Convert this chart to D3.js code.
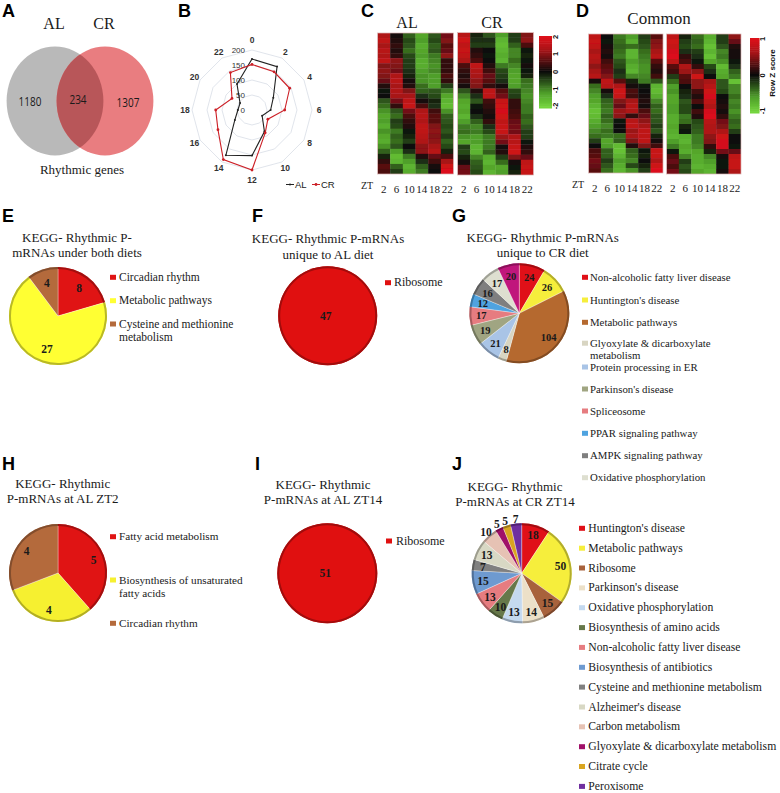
<!DOCTYPE html>
<html>
<head>
<meta charset="utf-8">
<script src="https://d3js.org/d3.v7.min.js"></script>
<style>
  html, body { margin: 0; padding: 0; background: #fff; }
  text { font-family: "Liberation Serif", serif; fill: #1a1a1a; }
  .letter { font-family: "Liberation Sans", sans-serif; font-weight: bold; font-size: 18px; fill: #000; }
  .sans { font-family: "Liberation Sans", sans-serif; }
  .axis path { display: none; }
</style>
</head>
<body>
<div id="chart"></div>
<script>
// panel A
var vennSets = ['AL', 'CR']
var vennCounts = ['1180', '234', '1307']

// panel B
var hours = [0, 2, 4, 6, 8, 10, 12, 14, 16, 18, 20, 22]
var radarTicks = [0, 50, 100, 150, 200]
var radarAL = [170, 167, 82, 62, 39, 83, 152, 174, 66, 47, 46, 100]
var radarCR = [152, 147, 145, 109, 61, 88, 200, 191, 131, 121, 77, 144]

// panels C and D, rows top to bottom, one column per ZT
var zt = ['2', '6', '10', '14', '18', '22']

var heatAL = [
  [1.3, 0.1, -0.7, -1.3, -0.6, 0.8],
  [1.5, 0.2, -0.5, -1.2, -0.5, 0.9],
  [1.2, 0.3, -0.6, -1.4, -0.7, 0.6],
  [1.4, 0.2, -0.8, -1.3, -0.6, 0.7],
  [1.3, 0.3, -0.5, -1.2, -0.9, 1.0],
  [1.5, 1.0, -0.4, -1.4, -1.0, 0.3],
  [0.9, 0.9, -0.4, -1.4, -1.1, 0.3],
  [1.0, 0.8, -0.3, -1.2, -1.0, 0.3],
  [0.9, 1.3, -0.2, -1.1, -1.2, 0.5],
  [0.7, 1.4, 0.1, -1.1, -1.2, 0.3],
  [0.2, 1.2, 0.2, -0.8, -1.2, -0.4],
  [-0.1, 1.3, 0.9, -0.7, -0.6, -0.9],
  [0.0, 1.2, 1.2, -0.3, -0.5, -1.3],
  [-0.6, 0.8, 1.5, 0.1, -0.2, -1.5],
  [-0.8, 0.3, 1.6, 0.5, -0.3, -1.6],
  [-1.1, -0.6, 0.8, 1.3, 0.4, -1.1],
  [-1.3, -0.8, 0.5, 1.4, 0.6, -0.7],
  [-1.2, -0.4, 0.3, 1.3, 0.6, -0.6],
  [-1.4, -0.5, 0.2, 1.5, 0.9, -0.5],
  [-1.1, -0.9, -0.1, 1.5, 1.0, -0.6],
  [-1.3, -0.7, -0.2, 1.4, 0.9, -0.4],
  [-1.4, -0.8, -0.4, 1.3, 1.0, -0.7],
  [-1.1, -0.6, 0.0, 1.0, 1.2, -0.5],
  [-0.7, -1.2, -0.3, 1.0, 1.4, -0.2],
  [-0.2, -1.6, -0.9, 0.2, 0.7, 0.5],
  [0.3, -1.5, -1.2, -0.3, 0.4, 1.2],
  [0.6, -0.7, -1.5, -0.7, 0.1, 1.7],
  [0.5, -0.4, -1.4, -0.9, 0.0, 1.9]
]

var heatCR = [
  [1.4, -0.2, -0.6, -1.2, -0.4, 0.9],
  [1.7, -0.3, -0.3, -1.5, -0.4, 1.0],
  [1.5, -0.4, -0.4, -1.6, -0.7, 0.5],
  [1.6, 0.2, 0.0, -1.5, -1.0, -0.1],
  [1.5, 0.3, -0.1, -1.4, -1.0, -0.2],
  [1.3, 0.5, 0.0, -1.5, -0.8, -0.1],
  [0.5, 1.5, 0.2, -0.9, -1.0, 0.1],
  [0.3, 1.3, 0.4, -0.5, -1.2, -0.1],
  [0.2, 1.2, 0.7, -0.4, -1.3, -0.2],
  [0.3, 1.0, 0.6, -0.3, -1.3, -0.8],
  [0.1, 0.9, 0.3, 0.1, -1.2, -0.9],
  [-0.6, 0.2, 1.5, 0.6, -0.5, -1.0],
  [-1.0, -0.3, 1.5, 0.8, -0.4, -1.1],
  [-1.3, -0.6, 0.4, 1.6, 0.3, -1.0],
  [-1.4, -0.1, 0.3, 1.7, 0.3, -0.9],
  [-1.3, 0.0, 0.2, 1.8, 0.4, -0.9],
  [-1.5, -0.3, 0.1, 1.7, 0.5, -0.7],
  [-1.2, -0.7, 0.3, 1.5, 0.7, -0.8],
  [-0.9, -1.0, -0.3, 1.6, 0.8, -0.6],
  [-0.8, -0.9, -0.5, 1.6, 0.8, -0.4],
  [-1.1, -1.2, -0.9, 1.1, 1.3, -0.4],
  [-1.3, -1.2, -0.9, 0.8, 1.4, -0.1],
  [-0.4, -1.5, -0.9, 0.1, 1.6, 0.2],
  [-0.5, -1.5, -0.7, 0.2, 1.7, 0.3],
  [-0.2, -1.0, -1.4, -0.4, 0.9, 0.7],
  [0.1, -0.7, -1.5, -0.8, 0.1, 1.5],
  [0.7, -0.6, -1.3, -1.3, -0.1, 1.6],
  [0.8, -0.5, -1.5, -1.2, -0.2, 1.6]
]

var commonAL = [
  [0.75, 0.0, -0.45, -0.6, -0.2, 0.3],
  [0.8, -0.05, -0.4, -0.7, -0.25, 0.45],
  [0.75, 0.05, -0.35, -0.4, -0.3, 0.5],
  [0.6, 0.1, -0.4, -0.75, -0.4, 0.6],
  [0.7, 0.05, -0.45, -0.75, -0.45, 0.7],
  [0.65, 0.2, -0.3, -0.6, -0.5, 0.3],
  [0.5, 0.3, -0.25, -0.7, -0.55, 0.15],
  [0.6, 0.35, -0.15, -0.75, -0.55, 0.1],
  [0.7, 0.45, -0.2, -0.5, -0.5, 0.2],
  [0.05, 0.75, 0.3, -0.1, -0.45, -0.3],
  [-0.4, 0.7, 0.65, 0.05, -0.05, -0.75],
  [-0.5, 0.05, 0.85, 0.25, 0.0, -0.8],
  [-0.6, -0.15, 0.8, 0.2, 0.05, -0.7],
  [-0.65, -0.35, 0.45, 0.6, 0.1, -0.5],
  [-0.75, -0.4, 0.35, 0.7, 0.05, -0.35],
  [-0.85, -0.45, 0.55, 0.65, 0.25, -0.4],
  [-0.8, -0.35, 0.5, 0.15, 0.35, -0.3],
  [-0.7, -0.4, -0.05, 0.7, 0.5, -0.3],
  [-0.6, -0.5, 0.0, 0.75, 0.6, -0.2],
  [-0.5, -0.4, 0.0, 0.55, 0.75, -0.3],
  [-0.4, -0.45, -0.4, 0.6, 0.75, -0.1],
  [-0.2, -0.65, -0.35, 0.45, 0.75, 0.05],
  [0.0, -0.6, -0.8, 0.1, 0.45, 0.2],
  [0.25, -0.35, -0.85, -0.35, -0.05, 0.8],
  [0.3, -0.35, -0.75, -0.4, -0.1, 0.8],
  [0.4, -0.2, -0.6, -0.5, 0.0, 0.65],
  [0.35, -0.3, -0.7, -0.25, -0.1, 0.85],
  [0.3, -0.4, -0.75, -0.55, -0.2, 0.95]
]

var commonCR = [
  [0.75, -0.1, -0.4, -0.7, -0.2, 0.5],
  [0.85, -0.2, -0.35, -0.75, -0.2, 0.35],
  [0.8, -0.25, -0.4, -0.85, -0.3, 0.1],
  [0.9, -0.15, -0.2, -0.75, -0.5, 0.05],
  [0.95, 0.15, -0.15, -0.85, -0.45, 0.05],
  [0.75, 0.25, -0.05, -0.65, -0.55, -0.05],
  [0.3, 0.65, 0.15, -0.25, -0.8, -0.15],
  [0.2, 0.55, 0.5, -0.15, -0.7, -0.35],
  [-0.2, 0.3, 0.85, 0.0, -0.65, -0.45],
  [-0.4, 0.25, 0.5, 0.6, -0.3, -0.85],
  [-0.6, 0.0, 0.5, 0.7, -0.3, -0.5],
  [-0.55, -0.1, 0.2, 0.85, -0.25, -0.5],
  [-0.65, -0.15, 0.1, 0.9, 0.0, -0.4],
  [-0.65, -0.3, 0.25, 0.75, 0.05, -0.5],
  [-0.6, -0.25, 0.0, 0.65, 0.1, -0.45],
  [-0.6, -0.25, 0.2, 0.9, 0.05, -0.55],
  [-0.7, -0.45, 0.1, 0.95, 0.15, -0.45],
  [-0.7, -0.4, -0.25, 0.7, 0.4, -0.35],
  [-0.65, -0.1, -0.3, 0.65, 0.45, -0.4],
  [-0.7, -0.05, -0.35, 0.65, 0.65, -0.2],
  [-0.75, -0.7, -0.45, 0.5, 0.85, 0.0],
  [-0.6, -0.75, -0.45, 0.45, 0.9, 0.0],
  [-0.45, -0.65, -0.5, 0.15, 0.9, -0.05],
  [-0.05, -0.7, -0.65, -0.1, 0.4, 0.35],
  [0.25, -0.5, -0.7, -0.5, 0.05, 0.75],
  [0.35, -0.2, -0.7, -0.6, -0.05, 0.8],
  [0.25, -0.3, -0.75, -0.7, -0.05, 0.8],
  [0.4, -0.25, -0.65, -0.75, 0.05, 0.65]
]

var scale2Ticks = [2, 1, 0, -1, -2]
var scale1Ticks = [1, 0, -1]

// pies, categories and values in legend order
var catE = ['Circadian rhythm', 'Metabolic pathways', 'Cysteine and methionine|metabolism']
var valE = [8, 27, 4]
var colE = ['#e01414', '#ffff33', '#b46a3c']

var catF = ['Ribosome']
var valF = [47]
var colF = ['#e01010']

var catG = ['Non-alcoholic fatty liver disease', "Huntington's disease", 'Metabolic pathways',
  'Glyoxylate & dicarboxylate|metabolism', 'Protein processing in ER', "Parkinson's disease",
  'Spliceosome', 'PPAR signaling pathway', 'AMPK signaling pathway', 'Oxidative phosphorylation']
var valG = [24, 26, 104, 8, 21, 19, 17, 12, 16, 17, 20]
var colG = ['#e01018', '#f6ee3c', '#b5692f', '#d8d5c2', '#a9c4e6', '#a0a582', '#e67c80',
  '#4fa3e0', '#7f7f7f', '#dedfd0', '#c0167c']
var colGLegend = colG.slice(0, 10)

var catH = ['Fatty acid metabolism', 'Biosynthesis of unsaturated|fatty acids', 'Circadian rhythm']
var valH = [5, 4, 4]
var colH = ['#e01414', '#f6f030', '#b46a3c']

var catI = ['Ribosome']
var valI = [51]
var colI = ['#e01010']

var catJ = ["Huntington's disease", 'Metabolic pathways', 'Ribosome', "Parkinson's disease",
  'Oxidative phosphorylation', 'Biosynthesis of amino acids', 'Non-alcoholic fatty liver disease',
  'Biosynthesis of antibiotics', 'Cysteine and methionine metabolism', "Alzheimer's disease",
  'Carbon metabolism', 'Glyoxylate & dicarboxylate metabolism', 'Citrate cycle', 'Peroxisome']
var valJ = [18, 50, 15, 14, 13, 10, 13, 15, 7, 13, 10, 5, 5, 7]
var colJ = ['#e01018', '#f6ee3c', '#a8623c', '#ece0c8', '#c4d9ef', '#66784a', '#e67c80',
  '#6e9ad0', '#808080', '#d8d8c4', '#e6c2b4', '#a01068', '#d9a520', '#6f2fa0']

var svg = d3.select('#chart').append('svg')
  .attr('width', 780)
  .attr('height', 793)
  .style('display', 'block')

// soft edge on the heatmap cells, the stripes in the figure run together a bit
var soft = svg.append('defs').append('filter').attr('id', 'soft')
  .attr('x', '-2%').attr('y', '-2%').attr('width', '104%').attr('height', '104%')
soft.append('feGaussianBlur').attr('stdDeviation', '0.5 0.7')

function put(x, y, str, size, anchor, cls) {
  return svg.append('text')
    .attr('x', x)
    .attr('y', y)
    .attr('font-size', size)
    .attr('text-anchor', anchor || 'start')
    .attr('class', cls || null)
    .text(str)
}

// panel letters
var letters = [['A', 2, 17], ['B', 178, 17], ['C', 361, 17], ['D', 576, 17], ['E', 2, 222],
  ['F', 252, 222], ['G', 452, 222], ['H', 2, 470], ['I', 255, 470], ['J', 452, 470]]
letters.forEach(function(l) {
  svg.append('text').attr('class', 'letter').attr('x', l[1]).attr('y', l[2]).text(l[0])
})

// ---- A: venn
function drawVenn() {
  var cx = d3.scalePoint().domain(vennSets).range([55, 105])
  var cy = 101, rx = 48.4, ry = 54.5
  svg.append('clipPath').attr('id', 'vennclip').append('ellipse')
    .attr('cx', cx('AL')).attr('cy', cy).attr('rx', rx).attr('ry', ry)
  svg.append('ellipse').attr('cx', cx('AL')).attr('cy', cy).attr('rx', rx).attr('ry', ry).attr('fill', '#b9b9b9')
  svg.append('ellipse').attr('cx', cx('CR')).attr('cy', cy).attr('rx', rx).attr('ry', ry).attr('fill', '#e97d80')
  svg.append('ellipse').attr('cx', cx('CR')).attr('cy', cy).attr('rx', rx).attr('ry', ry)
    .attr('fill', '#b85659').attr('clip-path', 'url(#vennclip)')

  vennSets.forEach(function(s) { put(cx(s) - 1, 29, s, 16, 'middle') })

  var cnt = d3.scalePoint().domain(vennCounts).range([30, 128])
  var cntY = [105.5, 103.5, 106.5]
  vennCounts.forEach(function(c, i) {
    put(cnt(c) - (i === 1 ? 1 : 0), cntY[i], c, 13, 'middle')
      .style('font-family', '"Open Sans"')
      .attr('textLength', c.length * 5.7)
      .attr('lengthAdjust', 'spacingAndGlyphs')
  })
  put(82, 174, 'Rhythmic genes', 13, 'middle')
}
drawVenn()

// ---- B: radar
function drawRadar() {
  var g = svg.append('g').attr('transform', 'translate(252,110)')
  var r = d3.scaleLinear().domain([0, 200]).range([0, 60])
  var ang = d3.scaleLinear().domain([0, 24]).range([0, 2 * Math.PI])
  var line = d3.lineRadial().curve(d3.curveLinearClosed)

  radarTicks.slice(1).forEach(function(t) {
    g.append('path')
      .attr('d', line(hours.map(function(h) { return [ang(h), r(t)] })))
      .attr('fill', 'none')
      .attr('stroke', '#d8dde6')
      .attr('stroke-width', 0.8)
  })

  radarTicks.forEach(function(t) {
    g.append('text').attr('class', 'sans').attr('x', -7).attr('y', -r(t) + 2.5)
      .attr('font-size', 8).attr('text-anchor', 'end').style('fill', '#333').text(t)
  })

  hours.forEach(function(h) {
    var rad = (h % 12 === 0) ? 70 : (h % 6 === 0 ? 67 : 66.5)
    var a = ang(h)
    g.append('text').attr('class', 'sans')
      .attr('x', rad * Math.sin(a))
      .attr('y', -rad * Math.cos(a) + 3)
      .attr('font-size', 8.5).attr('font-weight', 'bold').attr('text-anchor', 'middle')
      .style('fill', '#333').text(h)
  })

  function series(vals, col, size) {
    var pts = vals.map(function(v, i) { return [ang(hours[i]), r(v)] })
    g.append('path').attr('d', line(pts)).attr('fill', 'none').attr('stroke', col).attr('stroke-width', 1.1)
    g.selectAll(null).data(pts).enter().append('circle')
      .attr('cx', function(d) { return d[1] * Math.sin(d[0]) })
      .attr('cy', function(d) { return -d[1] * Math.cos(d[0]) })
      .attr('r', size).attr('fill', col)
  }
  series(radarAL, '#222', 1.0)
  series(radarCR, '#cc1f26', 1.4)

  // legend
  svg.append('line').attr('x1', 286).attr('x2', 294).attr('y1', 184.5).attr('y2', 184.5).attr('stroke', '#222')
  svg.append('circle').attr('cx', 290).attr('cy', 184.5).attr('r', 1).attr('fill', '#222')
  put(295, 188, 'AL', 9.5, 'start', 'sans')
  svg.append('line').attr('x1', 312).attr('x2', 320).attr('y1', 184.5).attr('y2', 184.5).attr('stroke', '#cc1f26')
  svg.append('circle').attr('cx', 316).attr('cy', 184.5).attr('r', 1.4).attr('fill', '#cc1f26')
  put(321, 188, 'CR', 9.5, 'start', 'sans')
}
drawRadar()

// ---- C, D: heatmaps
function drawHeat(rows, x0, y0, w, h, domainMax, labelY) {
  var color = d3.scaleLinear()
    .domain([-domainMax, -domainMax * 0.6, 0, domainMax * 0.6, domainMax])
    .range(['#74d63c', '#4f9f2a', '#0a0a0a', '#a81418', '#e3101a'])
    .clamp(true)
  var x = d3.scaleBand().domain(zt).range([0, w])
  var y = d3.scaleBand().domain(d3.range(rows.length)).range([0, h])
  var g = svg.append('g').attr('transform', 'translate(' + x0 + ',' + y0 + ')')

  svg.append('clipPath').attr('id', 'clip' + x0).append('rect').attr('width', w).attr('height', h)
  var cells = g.append('g').attr('clip-path', 'url(#clip' + x0 + ')').append('g').attr('filter', 'url(#soft)')
  rows.forEach(function(row, i) {
    cells.selectAll(null).data(row).enter().append('rect')
      .attr('x', function(d, j) { return x(zt[j]) })
      .attr('y', y(i))
      .attr('width', x.bandwidth() + 0.3)
      .attr('height', y.bandwidth() + 0.3)
      .attr('fill', function(d) { return color(d) })
  })
  g.append('rect').attr('width', w).attr('height', h).attr('fill', 'none').attr('stroke', '#d9b3b3').attr('stroke-width', 0.7)

  var ax = g.append('g').attr('class', 'axis')
    .attr('transform', 'translate(0,' + (labelY - y0) + ')')
    .call(d3.axisBottom(x).tickSize(0).tickPadding(0))
  ax.selectAll('text').attr('font-size', 11).attr('y', 4).style('font-family', '"Liberation Serif"').style('fill', '#1a1a1a')
  return color
}

function drawRamp(color, ticks, x0, y0, w, h, tickX, domainMax) {
  var y = d3.scaleLinear().domain([domainMax, -domainMax]).range([y0, y0 + h])
  var step = domainMax / 20
  var ramp = d3.range(-domainMax, domainMax, step)
  svg.selectAll(null).data(ramp).enter().append('rect')
    .attr('x', x0)
    .attr('y', function(d) { return y(d + step) })
    .attr('width', w)
    .attr('height', y(0) - y(step) + 0.5)
    .attr('fill', function(d) { return color(d) })
  ticks.forEach(function(t) {
    svg.append('text').attr('class', 'sans')
      .attr('transform', 'translate(' + tickX + ',' + Math.min(Math.max(y(t), y0 + 1), y0 + h - 2) + ') rotate(-90)')
      .attr('font-size', 7.5).attr('font-weight', 'bold').attr('text-anchor', 'middle').style('fill', '#111')
      .text(t)
  })
}

var heatC = drawHeat(heatAL, 377.5, 33, 76, 141, 2, 181)
drawHeat(heatCR, 457.5, 32.5, 76, 142.5, 2, 181)
drawRamp(heatC, scale2Ticks, 539, 36, 13, 72, 558, 2)
put(407, 28, 'AL', 16, 'middle')
put(492, 28, 'CR', 16, 'middle')
put(361, 189, 'ZT', 10, 'start')

var heatD = drawHeat(commonAL, 588.5, 34, 74.5, 139, 1, 180)
drawHeat(commonCR, 666.5, 34, 74.5, 140, 1, 180)
drawRamp(heatD, scale1Ticks, 750, 38, 9.5, 75, 765, 1)
put(659, 24, 'Common', 17, 'middle')
put(572, 188, 'ZT', 10, 'start')
svg.append('text').attr('class', 'sans')
  .attr('transform', 'translate(775,73) rotate(-90)')
  .attr('font-size', 8).attr('font-weight', 'bold').attr('text-anchor', 'middle').style('fill', '#111')
  .text('Row Z score')

// ---- E-J: pies
function drawPie(vals, cols, cx, cy, radius, labelR, numSize, outerFrom) {
  var g = svg.append('g').attr('transform', 'translate(' + cx + ',' + cy + ')')
  var pie = d3.pie().sort(null)
  var arcs = pie(vals)
  var body = d3.arc().innerRadius(0).outerRadius(radius)
  var rim = d3.arc().innerRadius(radius - 2).outerRadius(radius)

  g.selectAll('.slice').data(arcs).enter().append('path')
    .attr('class', 'slice')
    .attr('d', body)
    .attr('fill', function(d, i) { return cols[i] })
    .attr('stroke', vals.length > 1 ? 'rgba(255,255,255,0.45)' : 'none')
    .attr('stroke-width', 0.7)
  g.selectAll('.rim').data(arcs).enter().append('path')
    .attr('class', 'rim')
    .attr('d', rim)
    .attr('fill', function(d, i) { return d3.color(cols[i]).darker(0.9) })

  g.selectAll('.num').data(arcs).enter().append('text')
    .attr('class', 'num')
    .attr('font-size', numSize)
    .attr('font-weight', 'bold')
    .attr('text-anchor', 'middle')
    .attr('transform', function(d, i) {
      if (vals.length === 1) return 'translate(-2,4)'
      var a = (d.startAngle + d.endAngle) / 2
      var rr = (outerFrom !== undefined && i >= outerFrom) ? radius + 5 : labelR
      return 'translate(' + (rr * Math.sin(a)) + ',' + (-rr * Math.cos(a) + 4) + ')'
    })
    .text(function(d) { return d.value })
}

function drawLegend(cats, cols, swatchX, textX, ys, size) {
  var k = 0
  cats.forEach(function(c, i) {
    var parts = c.split('|')
    svg.append('rect').attr('x', swatchX).attr('y', ys[k] - 2.5).attr('width', 6).attr('height', 5)
      .attr('fill', cols[i])
    parts.forEach(function(p) {
      put(textX, ys[k] + 3.5, p, size)
      k = k + 1
    })
  })
}

function title(lines, x, ys) {
  lines.forEach(function(t, i) { put(x, ys[i], t, 13, 'middle') })
}

title(['KEGG- Rhythmic P-', 'mRNAs under both diets'], 77, [241.5, 256.5])
drawPie(valE, colE, 58, 316, 49, 35, 11.5)
drawLegend(catE, colE, 110, 119, [277.3, 300.7, 324, 337.3], 11.5)

title(['KEGG- Rhythmic P-mRNAs', 'unique to AL diet'], 328, [243, 259])
drawPie(valF, colF, 327.7, 315.7, 49.5, 0, 11.5)
drawLegend(catF, colF, 385, 394, [282.7], 12)

title(['KEGG- Rhythmic P-mRNAs', 'unique to CR diet'], 542.7, [241.5, 256.5])
drawPie(valG, colG, 519.3, 313.3, 50, 38, 10.5)
drawLegend(catG, colGLegend, 582, 590, [277.3, 300, 322.3, 343.2, 355.2, 367, 389, 411, 433.3, 455.7, 477.7], 10.8)

title(['KEGG- Rhythmic', 'P-mRNAs at AL ZT2'], 62.7, [488, 503.3])
drawPie(valH, colH, 58, 573, 49, 38, 11.5)
drawLegend(catH, colH, 110, 119, [536.7, 580, 593.3, 623.3], 11.2)

title(['KEGG- Rhythmic', 'P-mRNAs at AL ZT14'], 323, [489, 504])
drawPie(valI, colI, 327.3, 573.3, 50, 0, 11.5)
drawLegend(catI, colI, 386, 396, [541], 12)

title(['KEGG- Rhythmic', 'P-mRNAs at CR ZT14'], 515, [490.7, 505.7])
drawPie(valJ, colJ, 521.7, 573.3, 50, 39.5, 11.5, 10)
var legJ = [528.3, 548.2, 568, 587.9, 607.7, 627.6, 647.4, 667.3, 687.1, 707, 726.8, 746.7, 766.5, 786.4]
drawLegend(catJ, colJ, 579, 588.3, legJ, 11.7)
</script>
</body>
</html>
